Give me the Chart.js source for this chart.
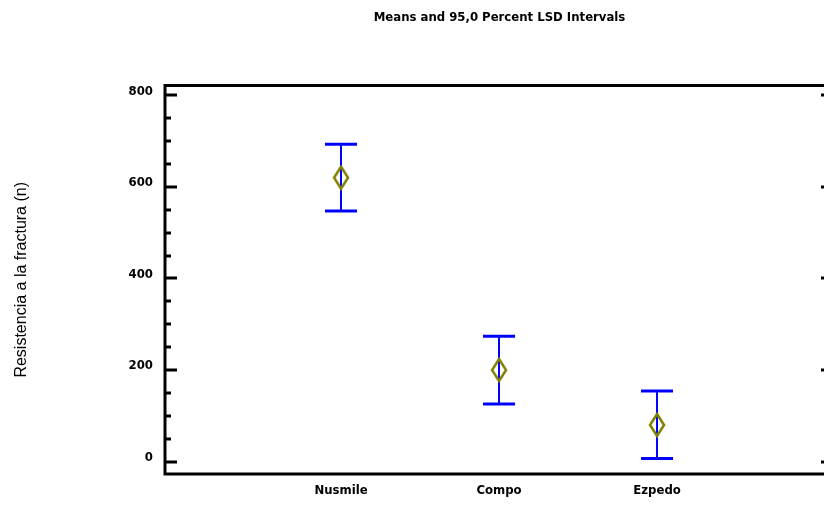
<!DOCTYPE html>
<html>
<head>
<meta charset="utf-8">
<script src="https://cdn.jsdelivr.net/npm/chart.js@4/dist/chart.umd.min.js"></script>
<style>
  html, body { margin: 0; padding: 0; background: #fff; overflow: hidden; }
  #wrap { width: 824px; height: 505px; overflow: hidden; }
</style>
</head>
<body>
<div id="wrap"><canvas id="chart" width="834" height="505"></canvas></div>
<script>
const categories = ["Nusmile", "Compo", "Ezpedo"]
const means = [620, 200, 80]
const lower = [547, 126, 7]
const upper = [693, 274, 154]
const yTicks = [0, 200, 400, 600, 800]

const BLUE = "#0000ff"
const OLIVE = "#808000"
const NARROW = "'Liberation Sans Narrow', 'DejaVu Sans Condensed', 'Liberation Sans', sans-serif"

// diamond marker, a bit taller than wide like the original
const diamond = document.createElement("canvas")
diamond.width = 18
diamond.height = 26
{
  const d = diamond.getContext("2d")
  d.strokeStyle = OLIVE
  d.lineWidth = 2.5
  d.beginPath()
  d.moveTo(9, 2); d.lineTo(16, 13); d.lineTo(9, 24); d.lineTo(2, 13); d.closePath()
  d.stroke()
}

const xs = categories.map((_, i) => i + 1)
const whiskers = xs.flatMap((x, i) => [{ x, y: lower[i] }, { x, y: upper[i] }, { x, y: null }])
const caps = xs.flatMap((x, i) => [{ x, y: lower[i] }, { x, y: upper[i] }])
const centers = xs.map((x, i) => ({ x, y: means[i] }))

const framePlugin = {
  id: "frame",
  afterDraw(chart) {
    const { ctx, chartArea: a, scales: { y } } = chart
    ctx.save()
    ctx.strokeStyle = "#000"
    ctx.fillStyle = "#000"
    ctx.lineWidth = 3
    ctx.beginPath()
    ctx.moveTo(a.right, a.top)
    ctx.lineTo(a.left, a.top)
    ctx.lineTo(a.left, a.bottom)
    ctx.lineTo(a.right, a.bottom)
    ctx.stroke()

    const step = (yTicks[1] - yTicks[0]) / 4
    for (let v = yTicks[0]; v <= yTicks[yTicks.length - 1]; v += step) {
      const py = Math.round(y.getPixelForValue(v))
      const major = yTicks.includes(v)
      ctx.beginPath()
      ctx.moveTo(a.left, py)
      ctx.lineTo(a.left + (major ? 12 : 6), py)
      ctx.stroke()
      if (major) ctx.fillRect(a.right - 13, py - 1.5, 3, 3)
    }
    ctx.restore()
  }
}

new Chart(document.getElementById("chart"), {
  type: "scatter",
  data: {
    datasets: [
      {
        data: centers,
        pointStyle: diamond,
        pointRadius: 8,
        showLine: false
      },
      {
        data: caps,
        pointStyle: "line",
        pointRadius: 16,
        borderColor: BLUE,
        borderWidth: 3,
        showLine: false
      },
      {
        data: whiskers,
        showLine: true,
        spanGaps: false,
        pointRadius: 0,
        borderColor: BLUE,
        borderWidth: 2
      }
    ]
  },
  options: {
    responsive: false,
    animation: false,
    events: [],
    layout: { padding: 0, autoPadding: false },
    plugins: {
      legend: { display: false },
      tooltip: { enabled: false },
      title: {
        display: true,
        fullSize: false,
        text: "Means and 95,0 Percent LSD Intervals",
        color: "#000",
        font: { family: NARROW, size: 13, weight: "bold" },
        padding: { top: 10, bottom: 60 }
      }
    },
    scales: {
      x: {
        type: "linear",
        min: -0.114,
        max: 4.12,
        grid: { display: false, drawTicks: false },
        border: { display: false },
        afterBuildTicks: (scale) => { scale.ticks = xs.map((v) => ({ value: v })) },
        afterFit: (scale) => { scale.height = 31 },
        ticks: {
          padding: 9,
          color: "#000",
          font: { family: NARROW, size: 13, weight: "bold" },
          callback: (v) => categories[v - 1] ?? ""
        }
      },
      y: {
        min: -27,
        max: 821,
        grid: { display: false, drawTicks: false },
        border: { display: false },
        afterBuildTicks: (scale) => { scale.ticks = yTicks.map((v) => ({ value: v })) },
        afterFit: (scale) => { scale.width = 165 },
        ticks: {
          padding: 12,
          labelOffset: -4,
          color: "#000",
          font: { family: NARROW, size: 13, weight: "bold" }
        },
        title: {
          display: true,
          text: "Resistencia a la fractura (n)",
          color: "#000",
          font: { family: "'Liberation Sans', Arial, sans-serif", size: 16, weight: "normal" },
          padding: { top: 12, bottom: 0 }
        }
      }
    }
  },
  plugins: [framePlugin]
})
</script>
</body>
</html>
